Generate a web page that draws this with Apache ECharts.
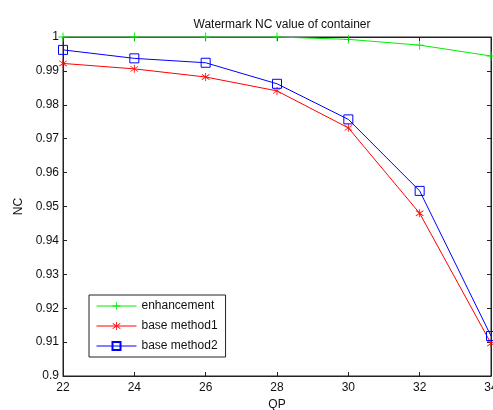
<!DOCTYPE html>
<html>
<head>
<meta charset="utf-8">
<script src="https://cdn.jsdelivr.net/npm/echarts@6/dist/echarts.min.js"></script>
<style>
  html, body { margin: 0; padding: 0; background: #fff; }
  #chart { width: 493px; height: 410px; }
</style>
</head>
<body>
<div id="chart"></div>
<script>
var qp = [22, 24, 26, 28, 30, 32, 34];
var enhancement = [1.0, 1.0, 1.0, 1.0, 0.9993, 0.9976, 0.9944];
var baseMethod1 = [0.9922, 0.9906, 0.9882, 0.9841, 0.9732, 0.948, 0.9096];
var baseMethod2 = [0.9962, 0.9937, 0.9924, 0.9862, 0.9757, 0.9546, 0.9118];
var seriesNames = ['enhancement', 'base method1', 'base method2'];

function pares(ys) {
    var out = [];
    for (var i = 0; i < qp.length; i++) out.push([qp[i], ys[i]]);
    return out;
}

var fuente = 'Arial, "Liberation Sans", sans-serif';
var ejeColor = '#222';

var myChart = echarts.init(document.getElementById('chart'));
var option = {
    animation: false,
    backgroundColor: '#fff',
    title: {
        text: 'Watermark NC value of container',
        left: 277,
        top: 14,
        textAlign: 'center',
        textStyle: { fontFamily: fuente, fontSize: 12, fontWeight: 'normal', color: '#111' }
    },
    grid: {
        left: 63, right: 2, top: 37, bottom: 34,
        containLabel: false,
        outerBoundsMode: 'none',
        show: true,
        borderColor: ejeColor,
        borderWidth: 1,
        backgroundColor: 'transparent'
    },
    legend: {
        data: seriesNames,
        orient: 'vertical',
        left: 89,
        top: 295,
        itemWidth: 40,
        itemHeight: 10,
        itemGap: 8,
        padding: [5, 8, 5, 7],
        borderColor: '#222',
        borderWidth: 1,
        backgroundColor: '#fff',
        lineStyle: { width: 1 },
        textStyle: { fontFamily: fuente, fontSize: 12, color: '#111' }
    },
    xAxis: [{
        type: 'value',
        min: 22,
        max: 34,
        interval: 2,
        name: 'QP',
        nameLocation: 'middle',
        nameGap: 20,
        nameTextStyle: { fontFamily: fuente, fontSize: 12, color: '#111' },
        axisLine: { onZero: false, lineStyle: { color: ejeColor } },
        axisTick: { inside: true, length: 4, lineStyle: { color: ejeColor } },
        axisLabel: { margin: 6, fontFamily: fuente, fontSize: 12, color: '#111' },
        splitLine: { show: false }
    }, {
        type: 'value',
        position: 'top',
        min: 22,
        max: 34,
        interval: 2,
        axisLine: { show: true, onZero: false, lineStyle: { color: ejeColor } },
        axisTick: { show: true, inside: true, length: 4, lineStyle: { color: ejeColor } },
        axisLabel: { show: false },
        splitLine: { show: false }
    }],
    yAxis: [{
        type: 'value',
        min: 0.9,
        max: 1,
        interval: 0.01,
        name: 'NC',
        nameLocation: 'middle',
        nameGap: 35,
        nameTextStyle: { fontFamily: fuente, fontSize: 12, color: '#111' },
        axisLine: { show: true, onZero: false, lineStyle: { color: ejeColor } },
        axisTick: { show: true, inside: true, length: 4, lineStyle: { color: ejeColor } },
        axisLabel: {
            margin: 4,
            fontFamily: fuente,
            fontSize: 12,
            color: '#111',
            formatter: function (v) { return String(parseFloat(v.toFixed(2))); }
        },
        splitLine: { show: false }
    }, {
        type: 'value',
        position: 'right',
        min: 0.9,
        max: 1,
        interval: 0.01,
        axisLine: { show: true, onZero: false, lineStyle: { color: ejeColor } },
        axisTick: { show: true, inside: true, length: 4, lineStyle: { color: ejeColor } },
        axisLabel: { show: false },
        splitLine: { show: false }
    }],
    series: [{
        name: seriesNames[0],
        type: 'line',
        data: pares(enhancement),
        symbol: 'path://M4.5,0h1v10h-1zM0,4.5h10v1h-10z',
        symbolSize: 9,
        lineStyle: { color: '#00ee00', width: 1 },
        itemStyle: { color: '#00ee00' },
        z: 5
    }, {
        name: seriesNames[1],
        type: 'line',
        data: pares(baseMethod1),
        symbol: 'path://M4.5,0h1v10h-1zM0.2,2.1L0.7,1.3L9.8,7.9L9.3,8.7zM0.2,7.9L0.7,8.7L9.8,2.1L9.3,1.3z',
        symbolSize: 8,
        lineStyle: { color: '#ff0000', width: 1 },
        itemStyle: { color: '#ff0000' }
    }, {
        name: seriesNames[2],
        type: 'line',
        data: pares(baseMethod2),
        symbol: 'rect',
        symbolSize: 9,
        lineStyle: { color: '#0000ff', width: 1 },
        itemStyle: { color: 'rgba(255,255,255,0)', borderColor: '#0000ff', borderWidth: 1, opacity: 1 }
    }]
};
myChart.setOption(option, true);
</script>
</body>
</html>
